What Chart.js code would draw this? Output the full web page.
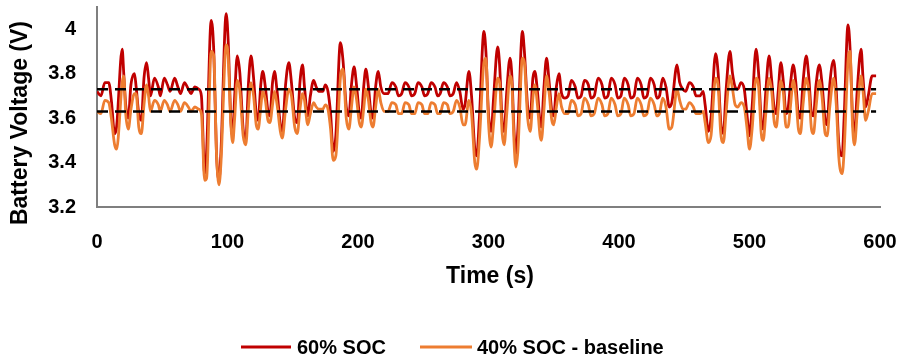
<!DOCTYPE html>
<html>
<head>
<meta charset="utf-8">
<script src="https://cdn.jsdelivr.net/npm/chart.js@4/dist/chart.umd.min.js"></script>
<style>
html,body{margin:0;padding:0;background:#fff;}
#wrap{width:898px;height:362px;}
</style>
</head>
<body>
<div id="wrap"><canvas id="c" width="898" height="362"></canvas></div>
<script>
// ---- data ----
const timeS = [0,3,6,9,11,13.5,15,19.3,20.5,22,24,26,28.7,30,32,34,36,38,39.5,41,44,47,48.5,51.5,54,56,59.5,62,64,67,70,72,75,78,
80,82.5,84,87.5,89.5,91.5,93.5,95,99,100.5,102.5,104,105.5,107.5,109.5,112,114,116,118,120,122,123.5,125.5,127,129,131,132.5,134.5,136,138,140.5,142,144.5,147,149,151.5,153.5,155.5,157.5,159,161.5,163.5,166,168,170,173,175,177,179,181,183,186.5,188.5,191,193,195,197,199,201,202.5,204.5,206,208,210,211.5,213.5,215.5,217.5,220,
223,226,229,231,233.5,236,239,241,243.5,246,249,251,253.5,256,259,261,263,265.5,268.5,270.5,273,275.5,278,280.5,282,285,287,289.5,291,293,296.5,298,300,302,304,307,308.5,310.5,312,314,316.5,318,319.5,321,322.5,326,327.5,330,332,334,335.5,337.5,339.5,340.5,342.5,344.5,346.5,348.5,350,352,354,356,358.5,
361,363.5,366.5,368.5,371,373.5,376.5,378.5,381,384,387,389,391.5,394,397,399,401.5,404,407,409,411.5,414,417,419,421.5,424,427,429,431,433.5,436,438.5,440.5,444.5,446.5,449,451,454,457,459,462,464.5,466,468.5,470.5,474,476,478,480,482,485,487,489,491,493.5,496,498,500,502,505,507,509,510.5,512.5,515,517,519,520.5,522,524,526,528,529.5,531.5,533.5,535.5,537.5,539,541,543.5,545.5,547.5,549,551,553.5,555.5,558,559.5,561.5,564.5,566.5,568.5,571,572.5,575.5,577,579,580.5,582.5,585.5,587,589,591,594,597];

const soc60 = [3.72,3.70,3.76,3.76,3.68,3.53,3.56,3.91,3.80,3.66,3.60,3.75,3.80,3.74,3.62,3.59,3.78,3.85,3.78,3.70,3.78,3.74,3.70,3.78,3.75,3.72,3.78,3.74,3.71,3.76,3.73,3.71,3.74,3.73,
3.70,3.35,3.45,4.04,3.90,3.45,3.32,3.45,4.07,3.95,3.60,3.52,3.70,3.88,3.80,3.55,3.50,3.75,3.88,3.78,3.62,3.59,3.75,3.81,3.74,3.63,3.61,3.76,3.81,3.72,3.57,3.54,3.75,3.85,3.76,3.60,3.58,3.76,3.84,3.74,3.61,3.70,3.77,3.74,3.72,3.72,3.75,3.72,3.62,3.45,3.52,3.94,3.86,3.65,3.61,3.75,3.83,3.74,3.62,3.60,3.75,3.82,3.74,3.62,3.60,3.74,3.81,3.74,3.71,
3.71,3.76,3.74,3.70,3.71,3.76,3.74,3.70,3.71,3.76,3.74,3.70,3.71,3.76,3.74,3.70,3.71,3.76,3.74,3.70,3.71,3.76,3.72,3.64,3.66,3.81,3.70,3.46,3.43,3.60,3.99,3.90,3.62,3.54,3.70,3.92,3.84,3.58,3.54,3.72,3.87,3.78,3.55,3.44,3.55,3.99,3.90,3.65,3.60,3.78,3.81,3.72,3.58,3.56,3.74,3.87,3.76,3.63,3.61,3.74,3.80,3.71,3.69,
3.70,3.77,3.74,3.69,3.70,3.77,3.75,3.69,3.70,3.78,3.75,3.69,3.70,3.78,3.75,3.69,3.70,3.78,3.75,3.69,3.70,3.78,3.75,3.69,3.70,3.78,3.75,3.69,3.70,3.78,3.74,3.65,3.67,3.84,3.76,3.73,3.72,3.76,3.74,3.70,3.70,3.72,3.66,3.54,3.60,3.89,3.80,3.58,3.53,3.72,3.90,3.80,3.74,3.73,3.76,3.73,3.62,3.52,3.65,3.91,3.80,3.59,3.55,3.72,3.88,3.77,3.64,3.62,3.72,3.85,3.76,3.62,3.64,3.76,3.84,3.76,3.61,3.60,3.76,3.88,3.78,3.62,3.61,3.75,3.84,3.76,3.59,3.57,3.75,3.86,3.72,3.48,3.43,3.60,4.02,3.92,3.60,3.52,3.72,3.91,3.78,3.65,3.70,3.79,3.79];

const soc40 = [3.63,3.62,3.68,3.67,3.60,3.48,3.46,3.76,3.79,3.62,3.55,3.64,3.71,3.71,3.56,3.53,3.66,3.75,3.70,3.63,3.68,3.66,3.63,3.68,3.66,3.63,3.68,3.66,3.63,3.67,3.65,3.63,3.65,3.64,
3.62,3.32,3.33,3.90,3.88,3.45,3.30,3.40,3.93,3.88,3.58,3.49,3.60,3.77,3.72,3.52,3.48,3.64,3.76,3.70,3.57,3.55,3.65,3.72,3.68,3.59,3.58,3.66,3.72,3.66,3.54,3.51,3.64,3.73,3.70,3.56,3.53,3.64,3.71,3.68,3.57,3.62,3.67,3.65,3.64,3.64,3.66,3.64,3.55,3.41,3.43,3.78,3.82,3.60,3.55,3.65,3.74,3.68,3.58,3.56,3.65,3.73,3.68,3.58,3.56,3.65,3.73,3.67,3.63,
3.63,3.67,3.66,3.62,3.62,3.67,3.66,3.62,3.62,3.67,3.66,3.62,3.62,3.67,3.66,3.62,3.62,3.67,3.66,3.62,3.63,3.68,3.65,3.57,3.57,3.68,3.62,3.40,3.37,3.50,3.85,3.87,3.58,3.47,3.58,3.78,3.76,3.53,3.48,3.62,3.79,3.74,3.50,3.38,3.45,3.87,3.85,3.60,3.54,3.69,3.75,3.66,3.52,3.50,3.64,3.79,3.71,3.59,3.57,3.65,3.71,3.65,3.62,
3.62,3.68,3.66,3.61,3.62,3.69,3.66,3.61,3.62,3.69,3.66,3.61,3.62,3.69,3.66,3.61,3.62,3.69,3.66,3.61,3.62,3.69,3.66,3.61,3.62,3.69,3.66,3.61,3.62,3.69,3.65,3.55,3.56,3.73,3.68,3.64,3.64,3.67,3.65,3.62,3.62,3.63,3.58,3.49,3.52,3.78,3.74,3.53,3.49,3.62,3.79,3.73,3.66,3.65,3.67,3.65,3.56,3.46,3.55,3.78,3.74,3.53,3.50,3.62,3.78,3.72,3.58,3.56,3.64,3.77,3.71,3.56,3.56,3.66,3.77,3.70,3.55,3.53,3.66,3.78,3.72,3.55,3.53,3.65,3.77,3.70,3.53,3.52,3.65,3.78,3.66,3.42,3.35,3.45,3.86,3.90,3.56,3.48,3.62,3.79,3.72,3.59,3.63,3.71,3.71];

const refHigh = 3.73;     // upper dashed reference
const refLow = 3.63;      // lower dashed reference
const refSpan = [0, 597]; // time span of dashed lines

const xTicks = [0,100,200,300,400,500,600];
const yTicks = [3.2,3.4,3.6,3.8,4.0];
const seriesNames = ['60% SOC','40% SOC - baseline'];
const seriesColors = ['#C00000','#ED7D31'];

// ---- build chart ----
const FONT = '"Liberation Sans", Arial, sans-serif';
const pts = (ys) => timeS.map((t,i)=>({x:t,y:ys[i]}));
const refPts = (v) => refSpan.map(t=>({x:t,y:v}));

const titlesAndLegend = {
  id:'titlesAndLegend',
  afterDraw(chart){
    const ctx = chart.ctx;
    ctx.save();
    ctx.fillStyle = '#000';
    ctx.font = 'bold 23px ' + FONT;
    ctx.textAlign = 'center';
    ctx.textBaseline = 'middle';
    ctx.fillText('Time (s)', 490, 277);
    ctx.save();
    ctx.translate(21, 123);
    ctx.rotate(-Math.PI/2);
    ctx.fillText('Battery Voltage (V)', 0, 0);
    ctx.restore();
    // legend
    ctx.font = 'bold 20px ' + FONT;
    ctx.textAlign = 'left';
    const ly = 347;
    const items = [{x:241, w:50, tx:297}, {x:420, w:52, tx:477}];
    items.forEach((it, i) => {
      ctx.strokeStyle = seriesColors[i];
      ctx.lineWidth = 3;
      ctx.beginPath();
      ctx.moveTo(it.x, ly);
      ctx.lineTo(it.x + it.w, ly);
      ctx.stroke();
      ctx.fillStyle = '#000';
      ctx.fillText(seriesNames[i], it.tx, ly + 1);
    });
    ctx.restore();
  }
};

new Chart(document.getElementById('c'), {
  type:'line',
  data:{
    datasets:[
      {label:seriesNames[0], data:pts(soc60), borderColor:seriesColors[0], borderWidth:2.8, pointRadius:0, cubicInterpolationMode:'monotone', order:4},
      {label:seriesNames[1], data:pts(soc40), borderColor:seriesColors[1], borderWidth:2.8, pointRadius:0, cubicInterpolationMode:'monotone', order:3},
      {label:'ref1', data:refPts(refHigh), borderColor:'#000', borderWidth:2.5, borderDash:[11,7], pointRadius:0, order:1},
      {label:'ref2', data:refPts(refLow), borderColor:'#000', borderWidth:2.5, borderDash:[11,7], pointRadius:0, order:2}
    ]
  },
  options:{
    responsive:false,
    animation:false,
    devicePixelRatio:1,
    layout:{padding:{left:0,right:18,top:7,bottom:0}},
    plugins:{
      legend:{display:false},
      tooltip:{enabled:false}
    },
    scales:{
      x:{
        type:'linear', min:0, max:600,
        afterBuildTicks:(s)=>{ s.ticks = xTicks.map(v=>({value:v})); },
        ticks:{color:'#000', font:{family:FONT, size:20, weight:'bold'}, padding:23, maxRotation:0, autoSkip:false},
        grid:{display:false, drawTicks:false},
        border:{display:true, color:'#7f7f7f', width:2},
        afterFit:(s)=>{ s.paddingLeft=0; s.paddingRight=0; s.height = 362 - 207; }
      },
      y:{
        min:3.2, max:4.1,
        afterBuildTicks:(s)=>{ s.ticks = yTicks.map(v=>({value:v})); },
        ticks:{color:'#000', font:{family:FONT, size:20, weight:'bold'}, padding:21, callback:(v)=>String(Math.round(v*10)/10)},
        grid:{display:false, drawTicks:false},
        border:{display:true, color:'#7f7f7f', width:2},
        afterFit:(s)=>{ s.width = 97; s.paddingTop=0; s.paddingBottom=0; }
      }
    }
  },
  plugins:[titlesAndLegend]
});
</script>
</body>
</html>
